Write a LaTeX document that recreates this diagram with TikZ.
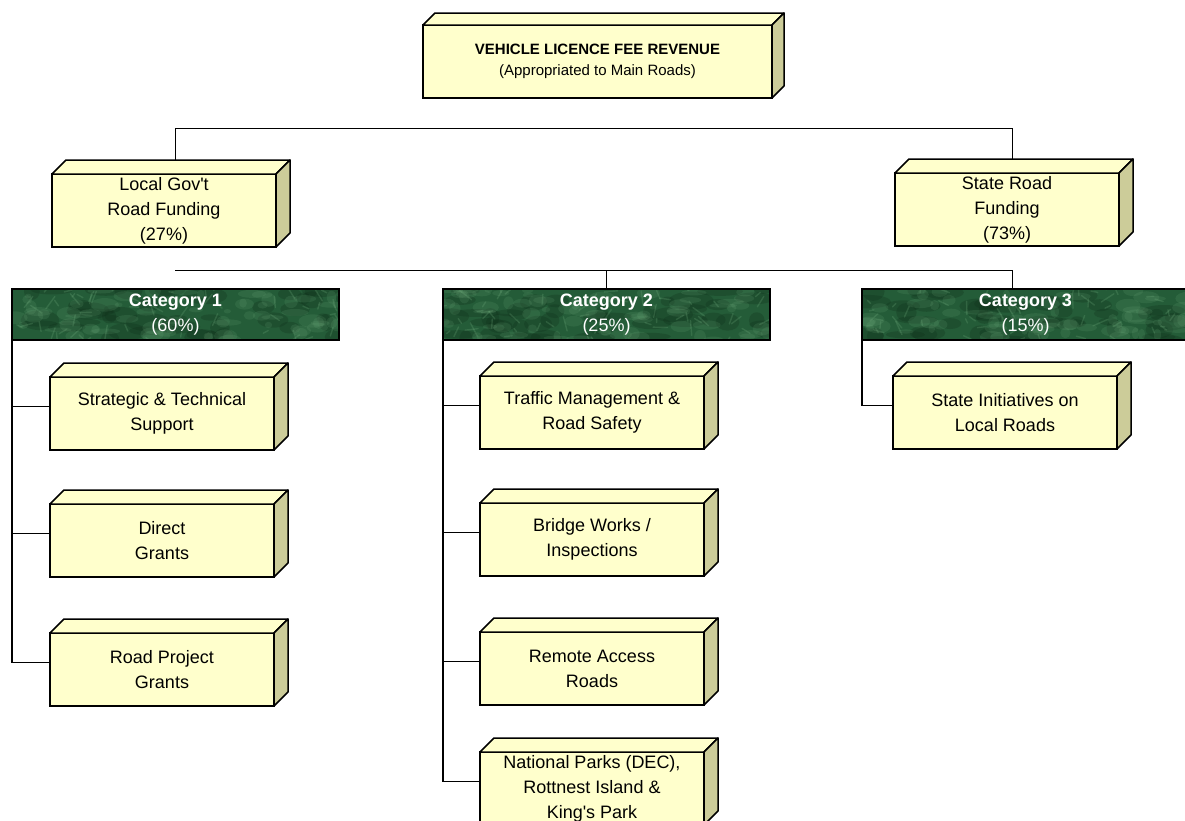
\documentclass[tikz,border=0pt]{standalone}
\usepackage{fontspec}
\setmainfont{Liberation Sans}[Ligatures=TeXOff]
\usetikzlibrary{calc,backgrounds}
\definecolor{boxfill}{HTML}{FFFFCC}
\definecolor{boxside}{HTML}{CCCC99}
\definecolor{catbase}{RGB}{36,92,56}
\definecolor{catdark}{RGB}{14,44,24}
\definecolor{catlight}{RGB}{120,180,132}
\tikzset{
  cube/.style={draw=black, line width=1.5pt, fill=boxfill, minimum width=224pt,
    minimum height=73pt, anchor=north west, align=center, inner sep=0pt, outer sep=0pt,
    font=\fontsize{18}{25}\selectfont},
  cubetop/.style={draw=black, line width=1.5pt, fill=boxfill, line join=round},
  cubeside/.style={draw=black, line width=1.5pt, fill=boxside, line join=round},
  cathead/.style={draw=black, line width=1.5pt, fill=catbase, text=white,
    minimum width=327pt, minimum height=51pt, anchor=north west, align=center,
    inner sep=0pt, outer sep=0pt, font=\fontsize{18}{25}\selectfont,
    path picture={
      \foreach \k in {1,...,45}{
        \pgfmathsetmacro\px{rnd*330}
        \pgfmathsetmacro\py{rnd*52}
        \pgfmathsetmacro\rx{6+rnd*18}
        \pgfmathsetmacro\ry{3+rnd*7}
        \fill[catdark, opacity=0.25] ($(path picture bounding box.north west)+(\px,\py)$) ellipse ({\rx pt} and {\ry pt});
      }
      \foreach \k in {1,...,70}{
        \pgfmathsetmacro\px{rnd*330}
        \pgfmathsetmacro\py{rnd*52}
        \pgfmathsetmacro\rx{3+rnd*12}
        \pgfmathsetmacro\ry{2+rnd*5}
        \fill[catlight, opacity=0.14] ($(path picture bounding box.north west)+(\px,\py)$) ellipse ({\rx pt} and {\ry pt});
      }
      \foreach \k in {1,...,60}{
        \pgfmathsetmacro\px{rnd*330}
        \pgfmathsetmacro\py{rnd*52}
        \pgfmathsetmacro\pa{rnd*360}
        \pgfmathsetmacro\pl{4+rnd*12}
        \draw[catlight, opacity=0.22, line width=1.4pt, line cap=round] ($(path picture bounding box.north west)+(\px,\py)$) -- ++(\pa:\pl);
      }
    }},
  thinline/.style={draw=black, line width=0.9pt},
  thickline/.style={draw=black, line width=1.8pt},
}
\newcommand{\cubefaces}[2]{%
  \path[cubetop] (#1.north west) -- ++(#2,-#2) -- ($(#1.north east)+(#2,-#2)$) -- (#1.north east) -- cycle;
  \path[cubeside] (#1.north east) -- ++(#2,-#2) -- ($(#1.south east)+(#2,-#2)$) -- (#1.south east) -- cycle;
}
\begin{document}
\begin{tikzpicture}[x=1pt, y=-1pt]
\useasboundingbox (0,0) rectangle (1185,820);
\clip (0,0) rectangle (1185,820);
\pgfmathsetseed{4242}

% top level
\node[cube, minimum width=349pt, font=\fontsize{15}{21}\selectfont] (top) at (423,25)
  {\textbf{VEHICLE LICENCE FEE REVENUE}\\(Appropriated to Main Roads)};
\cubefaces{top}{12}

\node[cube] (lg) at (52,174) {Local Gov't\\Road Funding\\(27\%)};
\cubefaces{lg}{14}
\node[cube] (sr) at (895,173) {State Road\\Funding\\(73\%)};
\cubefaces{sr}{14}

% category headers
\node[cathead] (c1) at (12,289) {\textbf{Category 1}\\(60\%)};
\node[cathead] (c2) at (443,289) {\textbf{Category 2}\\(25\%)};
\node[cathead] (c3) at (862,289) {\textbf{Category 3}\\(15\%)};

% category 1
\node[cube] (s1) at (50,377) {Strategic \& Technical\\Support};
\cubefaces{s1}{14}
\node[cube] (s2) at (50,504) {Direct\\Grants};
\cubefaces{s2}{14}
\node[cube] (s3) at (50,633) {Road Project\\Grants};
\cubefaces{s3}{14}

% category 2
\node[cube] (t1) at (480,376) {Traffic Management \&\\Road Safety};
\cubefaces{t1}{14}
\node[cube] (t2) at (480,503) {Bridge Works /\\Inspections};
\cubefaces{t2}{14}
\node[cube] (t3) at (480,632) {Remote Access\\Roads};
\cubefaces{t3}{14}
\node[cube] (t4) at (480,752) {National Parks (DEC),\\Rottnest Island \&\\King's Park};
\cubefaces{t4}{14}

% category 3
\node[cube] (u1) at (893,376) {State Initiatives on\\Local Roads};
\cubefaces{u1}{14}

\coordinate (busL) at (175,128);
\coordinate (busR) at (1012,128);
\coordinate (bus2L) at (175,270);
\coordinate (bus2R) at (1012,270);

\begin{pgfonlayer}{background}
  \draw[thinline] ($(top.south)+(7,0)$) -- ($(top.south)+(7,0)$ |- busL);
  \draw[thinline] (busL |- lg.north) -- (busL) -- (busR) -- (busR |- sr.north);
  \draw[thinline] ($(lg.south)+(7,0)$) -- ($(lg.south)+(7,0)$ |- c1.north);
  \draw[thinline] (bus2L) -- (bus2R) -- (bus2R |- c3.north);
  \draw[thinline] (c2.north |- bus2L) -- (c2.north);
  \draw[thickline] (c1.south west) |- ($(s1.west)+(0,-7)$);
  \draw[thickline] (c1.south west) |- ($(s2.west)+(0,-7)$);
  \draw[thickline] (c1.south west) |- ($(s3.west)+(0,-7)$);
  \draw[thickline] (c2.south west) |- ($(t1.west)+(0,-7)$);
  \draw[thickline] (c2.south west) |- ($(t2.west)+(0,-7)$);
  \draw[thickline] (c2.south west) |- ($(t3.west)+(0,-7)$);
  \draw[thickline] (c2.south west) |- ($(t4.west)+(0,-7)$);
  \draw[thickline] (c3.south west) |- ($(u1.west)+(0,-7)$);
\end{pgfonlayer}
\end{tikzpicture}
\end{document}
